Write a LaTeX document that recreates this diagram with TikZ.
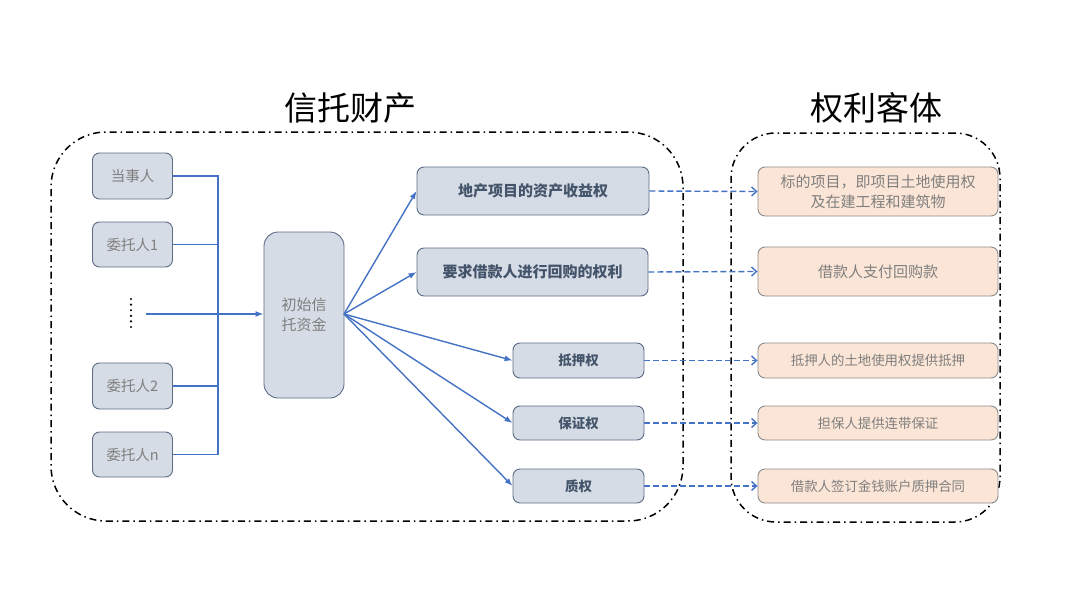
\documentclass[tikz,border=0pt]{standalone}
\usepackage{fontspec}
\setmainfont{Noto Sans CJK SC}
\usetikzlibrary{arrows.meta}
\definecolor{lineblue}{HTML}{4472C4}
\definecolor{boxfill}{HTML}{D6DCE5}
\definecolor{boxdraw}{HTML}{5B6B85}
\definecolor{peach}{HTML}{FBE5D6}
\definecolor{peachdraw}{HTML}{8C8C8C}
\definecolor{txtgray}{HTML}{7F7F7F}
\definecolor{txtdark}{HTML}{44546A}
\begin{document}
\begin{tikzpicture}[x=1pt,y=-1pt,
  leftbox/.style={draw=boxdraw, fill=boxfill, rounded corners=7pt, line width=0.9pt, inner sep=0pt,
    text=txtgray, font=\fontsize{14.5}{17}\selectfont},
  fundbox/.style={leftbox, rounded corners=14pt, align=center, font=\fontsize{15}{20}\selectfont},
  rightbox/.style={draw=boxdraw, fill=boxfill, rounded corners=7pt, line width=0.9pt, inner sep=0pt,
    text=txtdark, font=\fontsize{15}{17}\selectfont\bfseries},
  objbox/.style={draw=peachdraw, fill=peach, rounded corners=7pt, line width=0.9pt, inner sep=0pt,
    text=txtgray, align=center, minimum width=240, font=\fontsize{15}{20}\selectfont},
  smallobj/.style={objbox, font=\fontsize{13.4}{16}\selectfont},
  border/.style={draw=black, line width=1.5pt, dash pattern=on 7pt off 4pt on 1.5pt off 4pt, inner sep=0pt},
  title/.style={font=\fontsize{33}{36}\selectfont, text=black, inner sep=0pt},
  blueline/.style={draw=lineblue, line width=1.4pt},
  bluearrow/.style={blueline, -{Latex[length=8pt,width=6pt]}},
  dasharrow/.style={draw=lineblue, line width=1.4pt, dash pattern=on 6pt off 3pt, -{Straight Barb[length=5pt,width=9pt]}}
]
\useasboundingbox (0,0) rectangle (1080,608);

% containers
\node[border, rounded corners=55pt, minimum width=632, minimum height=389] (trust) at (367,326.5) {};
\node[border, rounded corners=45pt, minimum width=269, minimum height=389] (object) at (865.5,327.5) {};
\node[title] (t1) at (350,108) {信托财产};
\node[title] (t2) at (876,108) {权利客体};

% parties
\node[leftbox, minimum width=80, minimum height=46] (p0) at (132.5,176) {当事人};
\node[leftbox, minimum width=80, minimum height=45] (p1) at (132.5,244.5) {委托人1};
\node[leftbox, minimum width=80, minimum height=46] (p2) at (132.5,386) {委托人2};
\node[leftbox, minimum width=80, minimum height=45] (p3) at (132.5,454.5) {委托人n};
\foreach \yy in {299,304.6,310.2,315.8,321.4,327} \fill[black] (131,\yy) circle (1.2);
\coordinate (dots) at (146,314);
\coordinate (bt) at (218,176);

% fund
\node[fundbox, minimum width=80, minimum height=166] (fund) at (304,315) {初始信\\托资金};

\draw[blueline] (p0.east) -- (p0.east -| bt) |- (p3.east);
\draw[blueline] (p1.east) -- (p1.east -| bt);
\draw[blueline] (p2.east) -- (p2.east -| bt);
\draw[bluearrow] (dots) -- (dots -| fund.west);

% rights
\node[rightbox, minimum width=232, minimum height=48] (r1) at (533,191) {地产项目的资产收益权};
\node[rightbox, minimum width=231, minimum height=48] (r2) at (532.5,272) {要求借款人进行回购的权利};
\node[rightbox, minimum width=131, minimum height=35, font=\fontsize{13.5}{16}\selectfont\bfseries] (r3) at (578.5,360.5) {抵押权};
\node[rightbox, minimum width=131, minimum height=34, font=\fontsize{13.5}{16}\selectfont\bfseries] (r4) at (578.5,423) {保证权};
\node[rightbox, minimum width=131, minimum height=34, font=\fontsize{13.5}{16}\selectfont\bfseries] (r5) at (578.5,486) {质权};

\coordinate (fo) at (344,314);
\foreach \r in {r1,r2,r3,r4,r5} \draw[bluearrow] (fo) -- (\r.west);

% objects
\node[objbox, minimum height=49] (o1) at (878,191.5) {标的项目，即项目土地使用权\\及在建工程和建筑物};
\node[objbox, minimum height=49] (o2) at (878,271.5) {借款人支付回购款};
\node[smallobj, minimum height=35] (o3) at (878,360.5) {抵押人的土地使用权提供抵押};
\node[smallobj, minimum height=34] (o4) at (878,423) {担保人提供连带保证};
\node[smallobj, minimum height=34] (o5) at (878,486) {借款人签订金钱账户质押合同};

\foreach \i in {1,...,5} \draw[dasharrow] (r\i.east) -- (o\i.west);
\end{tikzpicture}
\end{document}
